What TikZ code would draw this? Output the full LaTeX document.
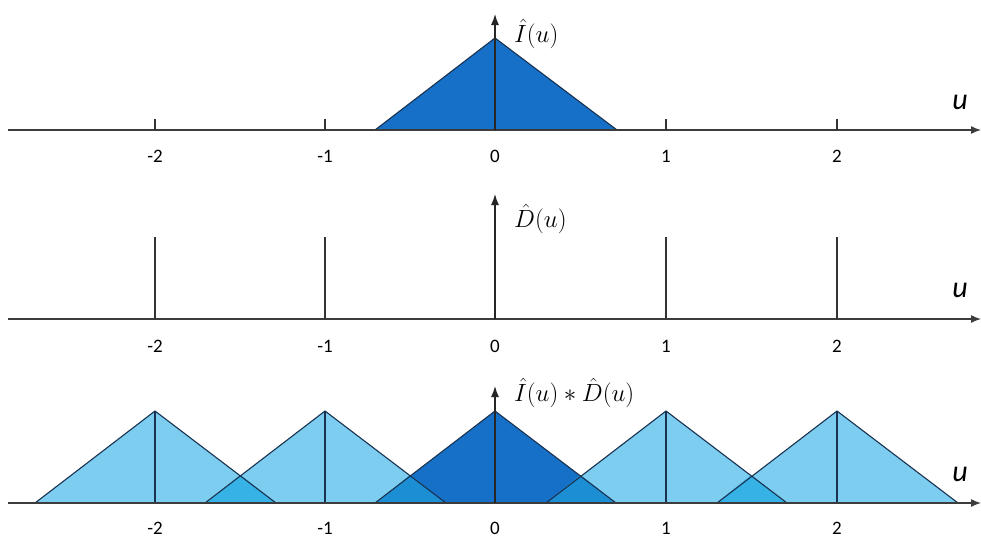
\documentclass[tikz,border=0pt]{standalone}
\usepackage{fontspec}
\newfontfamily\numfont{Carlito}
\usetikzlibrary{arrows.meta}
\definecolor{lightb}{RGB}{125,205,240}
\definecolor{ovlight}{RGB}{55,178,230}
\definecolor{darkb}{RGB}{22,112,200}
\definecolor{ovdark}{RGB}{28,142,212}
\definecolor{edge}{RGB}{25,50,80}
\definecolor{axisc}{RGB}{60,60,60}
\tikzset{
  axisline/.style={draw=axisc,line width=1.4pt,-{Latex[length=10pt,width=8pt]}},
  vaxis/.style={draw=black!85,line width=1.3pt,-{Latex[length=11pt,width=8pt]}},
  tri/.style={draw=edge,line width=1.1pt,line join=round},
  tickl/.style={draw=black!80,line width=1.2pt},
  num/.style={font=\numfont\fontsize{19}{21}\selectfont,inner sep=0pt},
  ulab/.style={font=\numfont\itshape\fontsize{30}{32}\selectfont,inner sep=0pt},
  flab/.style={font=\fontsize{27}{30}\selectfont,inner sep=0pt,anchor=west},
}
\begin{document}
\begin{tikzpicture}[x=1pt,y=-1pt]
\useasboundingbox[fill=white] (0,0) rectangle (981,538);
% ---------- panel 1 ----------
\coordinate (a1s) at (8,130);
\coordinate (a1e) at (981,130);
\fill[darkb] (375,130) -- (495,38) -- (617,130) -- cycle;
\draw[tri] (375,130) -- (495,38) -- (617,130);
\draw[axisline] (a1s) -- (a1e);
\coordinate (v1s) at (495,130);
\coordinate (v1e) at (495,14);
\draw[vaxis] (v1s) -- (v1e);
\foreach \x in {155,325,666,837}{ \draw[tickl] (\x,119) -- (\x,130); }
\node[num] (n1a) at (155,156) {-2};
\node[num] (n1b) at (325,156) {-1};
\node[num] (n1c) at (495,156) {0};
\node[num] (n1d) at (666,156) {1};
\node[num] (n1e) at (837,156) {2};
\node[ulab] (u1) at (960,102) {u};
\node[flab] (l1) at (514,34) {$\hat{I}(u)$};
% ---------- panel 2 ----------
\coordinate (a2s) at (8,319);
\coordinate (a2e) at (981,319);
\draw[axisline] (a2s) -- (a2e);
\coordinate (v2s) at (495,319);
\coordinate (v2e) at (495,194);
\draw[vaxis] (v2s) -- (v2e);
\foreach \x in {155,325,666,837}{ \draw[tickl] (\x,237) -- (\x,319); }
\node[num] (n2a) at (155,346) {-2};
\node[num] (n2b) at (325,346) {-1};
\node[num] (n2c) at (495,346) {0};
\node[num] (n2d) at (666,346) {1};
\node[num] (n2e) at (837,346) {2};
\node[ulab] (u2) at (960,290) {u};
\node[flab] (l2) at (514,219) {$\hat{D}(u)$};
% ---------- panel 3 ----------
\foreach \c/\col in {155/lightb,325/lightb,666/lightb,837/lightb,495/darkb}{
  \fill[\col] (\c-120,503) -- (\c,411) -- (\c+121,503) -- cycle;
}
% overlaps
\foreach \c/\col in {155/ovlight,325/ovdark,495/ovdark,666/ovlight}{
  \fill[\col] (\c+170.5-120,503) -- (\c+85.25,475) -- (\c+121,503) -- cycle;
}
\foreach \c in {155,325,495,666,837}{
  \draw[tri] (\c-120,503) -- (\c,411) -- (\c+121,503);
  \draw[tri] (\c,411) -- (\c,503);
}
\coordinate (a3s) at (8,503);
\coordinate (a3e) at (981,503);
\draw[axisline] (a3s) -- (a3e);
\coordinate (v3s) at (495,503);
\coordinate (v3e) at (495,386);
\draw[vaxis] (v3s) -- (v3e);
\node[num] (n3a) at (155,528) {-2};
\node[num] (n3b) at (325,528) {-1};
\node[num] (n3c) at (495,528) {0};
\node[num] (n3d) at (666,528) {1};
\node[num] (n3e) at (837,528) {2};
\node[ulab] (u3) at (960,474) {u};
\node[flab] (l3) at (514,393) {$\hat{I}(u)\ast\hat{D}(u)$};
\end{tikzpicture}
\end{document}
